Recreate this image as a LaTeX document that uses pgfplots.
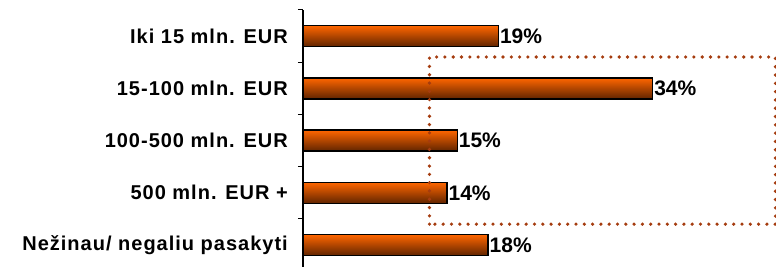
\documentclass[border=0pt]{standalone}
\usepackage{fontspec}
\setmainfont{Liberation Sans}
\newfontfamily\catfont{Liberation Sans}[LetterSpace=5]
\usepackage{pgfplots}
\pgfplotsset{compat=1.18}
\definecolor{barTop}{RGB}{255,102,0}
\definecolor{barMid}{RGB}{235,94,0}
\definecolor{barBot}{RGB}{96,36,0}
\definecolor{dotCol}{RGB}{165,60,15}
\begin{document}
\begin{tikzpicture}
\begin{axis}[
  at={(0,0)}, anchor=south west,
  scale only axis,
  width=473pt, height=257pt,
  xmin=0, xmax=46,
  ymin=-0.42, ymax=4.5,
  hide x axis,
  axis y line*=left,
  axis line style={black, line width=1.3pt},
  xbar, bar width=21pt, bar shift=0pt,
  ytick={0,1,2,3,4},
  yticklabels={Nežinau/ negaliu pasakyti, 500 mln. EUR +, 100-500 mln. EUR, 15-100 mln. EUR, Iki 15 mln. EUR},
  major tick length=0pt,
  minor ytick={0.5,1.5,2.5,3.5,4.5},
  minor tick length=5pt,
  tick align=outside,
  tick style={black, line width=1pt},
  yticklabel style={font=\catfont\bfseries\fontsize{20}{20}\selectfont, anchor=east, inner sep=0pt, xshift=-15pt},
  /pgf/number format/assume math mode=true,
  nodes near coords={\pgfmathprintnumber{\pgfplotspointmeta}\%},
  nodes near coords align=horizontal,
  every node near coord/.append style={font=\bfseries\fontsize{21}{21}\selectfont, inner sep=1pt, anchor=west},
  barstyle/.style={draw=black, line width=1.3pt, top color=barTop, middle color=barMid, bottom color=barBot},
  clip=false,
]
\addplot[barstyle] coordinates {(18,0)};
\addplot[barstyle] coordinates {(14,1)};
\addplot[barstyle] coordinates {(15,2)};
\addplot[barstyle] coordinates {(34,3)};
\addplot[barstyle] coordinates {(19,4)};
\draw[dotCol, line width=3.6pt, line cap=round, dash pattern=on 0pt off 8.3pt]
  (axis cs:12.3,0.4) rectangle (axis cs:45.95,3.6);
\end{axis}
\pgfresetboundingbox
\path[use as bounding box] (-303pt,0pt) rectangle (473pt,267pt);
\end{tikzpicture}
\end{document}
